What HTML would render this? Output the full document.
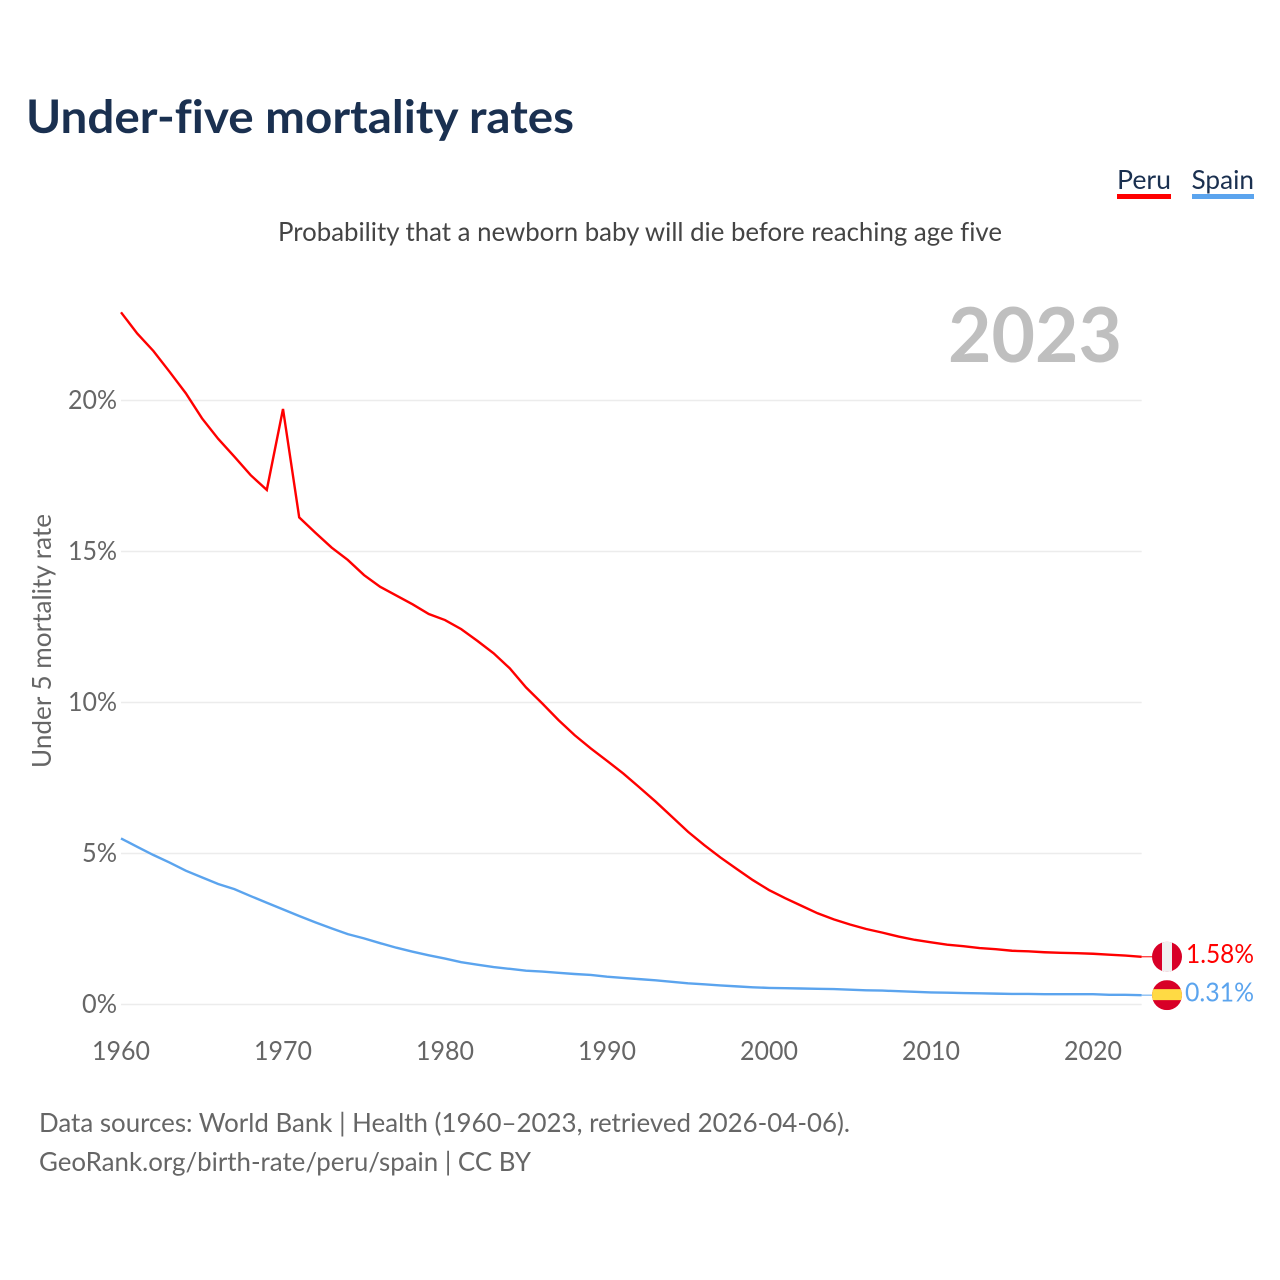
<!DOCTYPE html>
<html lang="en">
<head>
<meta charset="utf-8">
<title>Under-five mortality rates</title>
<style>
html,body{margin:0;padding:0;background:#fff;width:1280px;height:1280px;overflow:hidden}
svg{display:block}
text{font-family:"Lato","Carlito","Liberation Sans",sans-serif;font-variant-ligatures:none}
</style>
</head>
<body>
<svg id="chart" xmlns="http://www.w3.org/2000/svg" width="1280" height="1280" viewBox="0 0 1280 1280">
  <defs>
    <clipPath id="clip-peru"><circle id="clip-peru-circle" r="15"></circle></clipPath>
    <clipPath id="clip-spain"><circle id="clip-spain-circle" r="15"></circle></clipPath>
  </defs>
  <text x="26" y="133" font-size="46" font-weight="700" fill="#1a3050" textLength="548" lengthAdjust="spacingAndGlyphs">Under-five mortality rates</text>
  <text x="1117" y="189" font-size="26" fill="#1a3050" textLength="54" lengthAdjust="spacingAndGlyphs">Peru</text>
  <rect x="1117" y="194" width="54" height="5" fill="#ff0000"></rect>
  <text x="1191.5" y="189" font-size="26" fill="#1a3050" textLength="62.5" lengthAdjust="spacingAndGlyphs">Spain</text>
  <rect x="1192" y="194" width="62" height="5" fill="#5ba4ee"></rect>
  <text x="278" y="241" font-size="26" fill="#444" textLength="724" lengthAdjust="spacingAndGlyphs">Probability that a newborn baby will die before reaching age five</text>
  <text x="948" y="362" font-size="76" font-weight="700" fill="#bfbfbf" textLength="174" lengthAdjust="spacingAndGlyphs">2023</text>
  <text transform="translate(51 768) rotate(-90)" font-size="26" fill="#666" textLength="254" lengthAdjust="spacingAndGlyphs">Under 5 mortality rate</text>
  <g id="grid"></g>
  <g id="y-axis"></g>
  <g id="x-axis"></g>
  <g id="series"></g>
  <g id="end-markers"></g>
  <text x="39" y="1132" font-size="26" fill="#666" textLength="811" lengthAdjust="spacingAndGlyphs">Data sources: World Bank | Health (1960–2023, retrieved 2026-04-06).</text>
  <text x="39" y="1171" font-size="26" fill="#666" textLength="492" lengthAdjust="spacingAndGlyphs">GeoRank.org/birth-rate/peru/spain | CC BY</text>
</svg>
<script>
const startYear = 1960;
const yTicks = [0, 5, 10, 15, 20];
const yTickLabels = ['0%', '5%', '10%', '15%', '20%'];
const yTickWidths = [35, 35, 49, 49, 49];
const xTicks = [1960, 1970, 1980, 1990, 2000, 2010, 2020];
const xTickLabels = ['1960', '1970', '1980', '1990', '2000', '2010', '2020'];
const peruValues = [22.92, 22.22, 21.64, 20.95, 20.24, 19.41, 18.73, 18.14, 17.53, 17.04,
  19.72, 16.13, 15.62, 15.13, 14.72, 14.22, 13.83, 13.54, 13.25, 12.93,
  12.73, 12.43, 12.04, 11.63, 11.13, 10.5, 9.97, 9.42, 8.92, 8.48,
  8.07, 7.65, 7.19, 6.72, 6.22, 5.72, 5.28, 4.87, 4.49, 4.12,
  3.79, 3.52, 3.27, 3.02, 2.82, 2.65, 2.5, 2.38, 2.25, 2.14,
  2.06, 1.98, 1.93, 1.87, 1.83, 1.78, 1.76, 1.73, 1.71, 1.7,
  1.68, 1.65, 1.62, 1.58];
const spainValues = [5.5, 5.22, 4.95, 4.7, 4.43, 4.21, 3.99, 3.82, 3.59, 3.37,
  3.15, 2.93, 2.72, 2.52, 2.33, 2.19, 2.03, 1.88, 1.75, 1.63,
  1.52, 1.4, 1.32, 1.24, 1.18, 1.12, 1.09, 1.05, 1.01, 0.98,
  0.92, 0.88, 0.84, 0.8, 0.75, 0.7, 0.67, 0.63, 0.6, 0.57,
  0.55, 0.54, 0.53, 0.52, 0.51, 0.49, 0.47, 0.46, 0.44, 0.42,
  0.4, 0.39, 0.38, 0.37, 0.36, 0.35, 0.35, 0.34, 0.34, 0.34,
  0.34, 0.32, 0.32, 0.31];

const NS = 'http://www.w3.org/2000/svg';
const xScale = function (year) { return 121 + (year - startYear) * 16.2; };
const yScale = function (v) { return 1004.5 - v * 30.2; };
const lastYear = startYear + peruValues.length - 1;

function make(parent, tag, attrs, content) {
  const el = document.createElementNS(NS, tag);
  Object.keys(attrs).forEach(function (k) { el.setAttribute(k, attrs[k]); });
  if (content !== undefined) el.textContent = content;
  parent.appendChild(el);
  return el;
}

const gridGroup = document.getElementById('grid');
const yGroup = document.getElementById('y-axis');
yTicks.forEach(function (t, i) {
  const line = make(gridGroup, 'line', { x1: 121, x2: 1141.7, y1: yScale(t), y2: yScale(t), stroke: '#ececec', 'stroke-width': 1.5 });
  
  
  const label = make(yGroup, 'text', { x: 117 - yTickWidths[i], y: yScale(t) + 8.5, 'font-size': 26, fill: '#666', textLength: yTickWidths[i], lengthAdjust: 'spacingAndGlyphs' }, yTickLabels[i]);
  
  
});

const xGroup = document.getElementById('x-axis');
xTicks.forEach(function (t, i) {
  const label = make(xGroup, 'text', { x: xScale(t) - 29, y: 1060, 'font-size': 26, fill: '#666', textLength: 58, lengthAdjust: 'spacingAndGlyphs' }, xTickLabels[i]);
  
  
});

function linePath(values) {
  return values.map(function (v, i) {
    return (i ? 'L' : 'M') + xScale(startYear + i).toFixed(2) + ' ' + yScale(v).toFixed(2);
  }).join(' ');
}

const seriesGroup = document.getElementById('series');
const peruLine = make(seriesGroup, 'path', { d: linePath(peruValues), fill: 'none', stroke: '#ff0000', 'stroke-width': 2.4, 'stroke-linejoin': 'miter' });


const spainLine = make(seriesGroup, 'path', { d: linePath(spainValues), fill: 'none', stroke: '#5ba4ee', 'stroke-width': 2.4, 'stroke-linejoin': 'miter' });



const markerGroup = document.getElementById('end-markers');
const peruLast = peruValues[peruValues.length - 1];
const spainLast = spainValues[spainValues.length - 1];
const peruY = yScale(peruLast);
const spainY = yScale(spainLast);
const endX = xScale(lastYear);

const peruConn = make(markerGroup, 'line', { x1: endX, x2: 1152, y1: peruY, y2: peruY, stroke: '#ff0000', 'stroke-width': 1 });


const spainConn = make(markerGroup, 'line', { x1: endX, x2: 1152, y1: spainY, y2: spainY, stroke: '#5ba4ee', 'stroke-width': 1 });



document.getElementById('clip-peru-circle').setAttribute('cx', 1167);
document.getElementById('clip-peru-circle').setAttribute('cy', peruY);
document.getElementById('clip-spain-circle').setAttribute('cx', 1167);
document.getElementById('clip-spain-circle').setAttribute('cy', spainY);

const peruFlag = make(markerGroup, 'g', { 'clip-path': 'url(#clip-peru)' });


make(peruFlag, 'rect', { x: 1152, y: peruY - 15, width: 30, height: 30, fill: '#d80027' });
make(peruFlag, 'rect', { x: 1162, y: peruY - 15, width: 10, height: 30, fill: '#f0f0f0' });

const spainFlag = make(markerGroup, 'g', { 'clip-path': 'url(#clip-spain)' });


make(spainFlag, 'rect', { x: 1152, y: spainY - 15, width: 30, height: 30, fill: '#d80027' });
make(spainFlag, 'rect', { x: 1152, y: spainY - 6, width: 30, height: 11, fill: '#ffda44' });

const peruValueLabel = make(markerGroup, 'text', { x: 1186, y: peruY + 6, 'font-size': 26, fill: '#ff0000', textLength: 68, lengthAdjust: 'spacingAndGlyphs' }, peruLast.toFixed(2) + '%');


const spainValueLabel = make(markerGroup, 'text', { x: 1185, y: spainY + 6.5, 'font-size': 26, fill: '#5ba4ee', textLength: 69, lengthAdjust: 'spacingAndGlyphs' }, spainLast.toFixed(2) + '%');


</script>
</body>
</html>
